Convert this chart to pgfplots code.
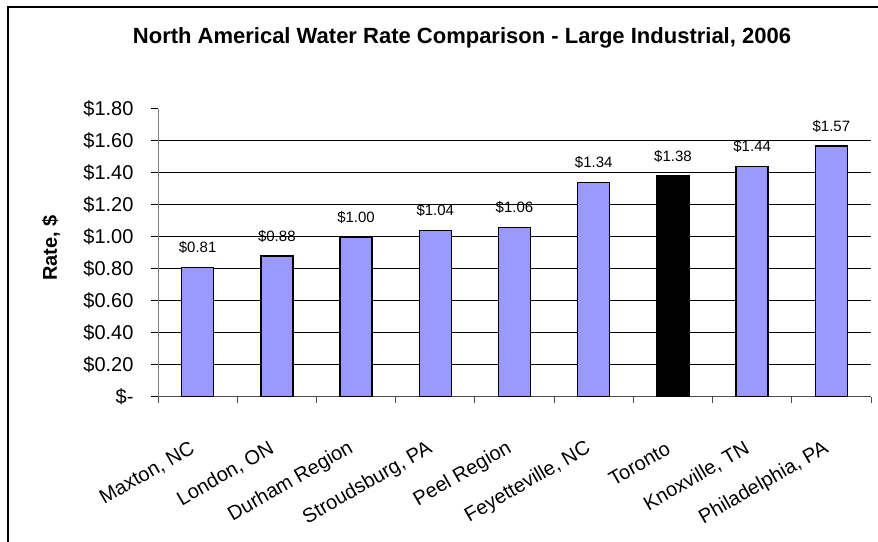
\documentclass[border=0pt]{standalone}
\usepackage{pgfplots}
\pgfplotsset{compat=1.18}
\usepackage{fontspec}
\setmainfont{Liberation Sans}
\definecolor{barblue}{HTML}{9999FF}
\begin{document}
\begin{tikzpicture}[x=1bp,y=1bp]
\path[use as bounding box] (0,0) rectangle (878,542);
% chart area frame
\draw[line width=1.5bp] (8,0) -- (8,535) -- (878,535);
\node[anchor=base, font=\fontsize{22bp}{26bp}\selectfont\bfseries] at (462,498)
  {North Americal Water Rate Comparison - Large Industrial, 2006};
\begin{axis}[
  at={(158bp,145bp)}, anchor=south west,
  scale only axis, width=713bp, height=288bp,
  xmin=0, xmax=9, ymin=0, ymax=1.8,
  axis lines*=left,
  x axis line style={black!70, line width=1bp},
  y axis line style={black!50, line width=1bp},
  tick align=outside,
  /pgf/number format/assume math mode=true,
  ticklabel style={font=\fontsize{20bp}{24bp}\selectfont},
  xtick={0.5,1.5,2.5,3.5,4.5,5.5,6.5,7.5,8.5},
  xticklabels={{Maxton, NC},{London, ON},{Durham Region},{Stroudsburg, PA},{Peel Region},{Feyetteville, NC},{Toronto},{Knoxville, TN},{Philadelphia, PA}},
  major x tick style={draw=none},
  minor xtick={0,1,2,3,4,5,6,7,8,9},
  minor x tick style={black!70, line width=1bp},
  minor tick length=6bp,
  xticklabel style={rotate=30, anchor=east, xshift=-22bp, yshift=-35bp},
  ytick={0,0.2,0.4,0.6,0.8,1.0,1.2,1.4,1.6},
  yticklabels={{\$-\hspace{23bp}},\$0.20,\$0.40,\$0.60,\$0.80,\$1.00,\$1.20,\$1.40,\$1.60},
  extra y ticks={1.8},
  extra y tick labels={\$1.80},
  extra y tick style={grid=none},
  major y tick style={black, line width=1bp},
  major tick length=7bp,
  yticklabel style={xshift=-14bp},
  ymajorgrids,
  major grid style={black, line width=1bp},
  ylabel={Rate, \$},
  ylabel style={font=\fontsize{20bp}{24bp}\selectfont\bfseries,
    at={(axis description cs:-0.150,0.517)}, anchor=center},
  every node near coord/.append style={font=\fontsize{15bp}{18bp}\selectfont,
    inner sep=0pt, yshift=13bp, black},
  nodes near coords={\$\pgfmathprintnumber[fixed,fixed zerofill,precision=2]{\pgfplotspointmeta}},
]
\addplot[ybar, bar width=32bp, bar shift=0pt, fill=barblue, draw=black, line width=1.5bp]
  coordinates {(0.5,0.81) (1.5,0.88) (2.5,1.00) (3.5,1.04) (4.5,1.06) (5.5,1.34) (7.5,1.44) (8.5,1.57)};
\addplot[ybar, bar width=32bp, bar shift=0pt, fill=black, draw=black, line width=1.5bp]
  coordinates {(6.5,1.38)};
\end{axis}
\end{tikzpicture}
\end{document}
